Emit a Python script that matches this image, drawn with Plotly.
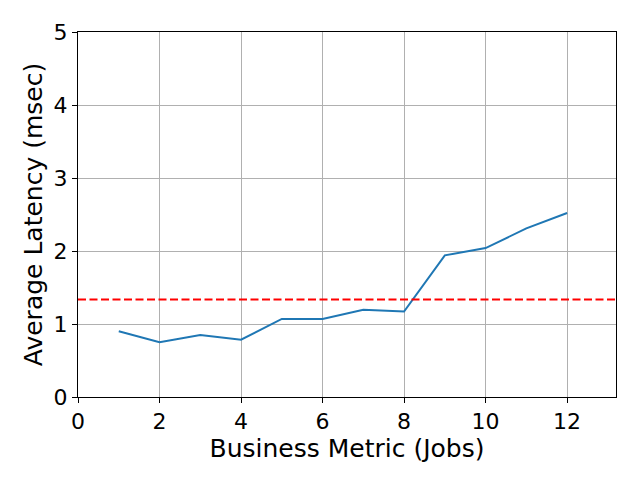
import plotly.graph_objects as go

jobs = [1, 2, 3, 4, 5, 6, 7, 8, 9, 10, 11, 12]
latency = [0.90, 0.75, 0.85, 0.785, 1.07, 1.07, 1.195, 1.17, 1.94, 2.04, 2.31, 2.52]
threshold = 1.335

fig = go.Figure()
fig.add_trace(go.Scatter(x=jobs, y=latency, mode="lines",
                         line=dict(color="#1f77b4", width=2), showlegend=False))
fig.add_hline(y=threshold, line=dict(color="red", width=2, dash="8px,3.5px"))

axis_common = dict(showgrid=True, gridcolor="#b0b0b0", gridwidth=1,
                   showline=True, linecolor="black", linewidth=1, mirror=True,
                   ticks="outside", ticklen=5, tickcolor="black", zeroline=False,
                   tickfont=dict(family="DejaVu Sans", size=22, color="black"))
fig.update_xaxes(range=[0, 13.2], dtick=2, tick0=0,
                 title=dict(text="Business Metric (Jobs)", standoff=0,
                            font=dict(family="DejaVu Sans", size=25, color="black")),
                 **axis_common)
fig.update_yaxes(range=[0, 5], dtick=1, tick0=0,
                 title=dict(text="Average Latency (msec)", standoff=3,
                            font=dict(family="DejaVu Sans", size=25, color="black")),
                 **axis_common)
fig.update_layout(width=640, height=480, plot_bgcolor="white", paper_bgcolor="white",
                  margin=dict(l=70, r=32, t=24, b=91, autoexpand=False))
fig.write_html("out.html")
